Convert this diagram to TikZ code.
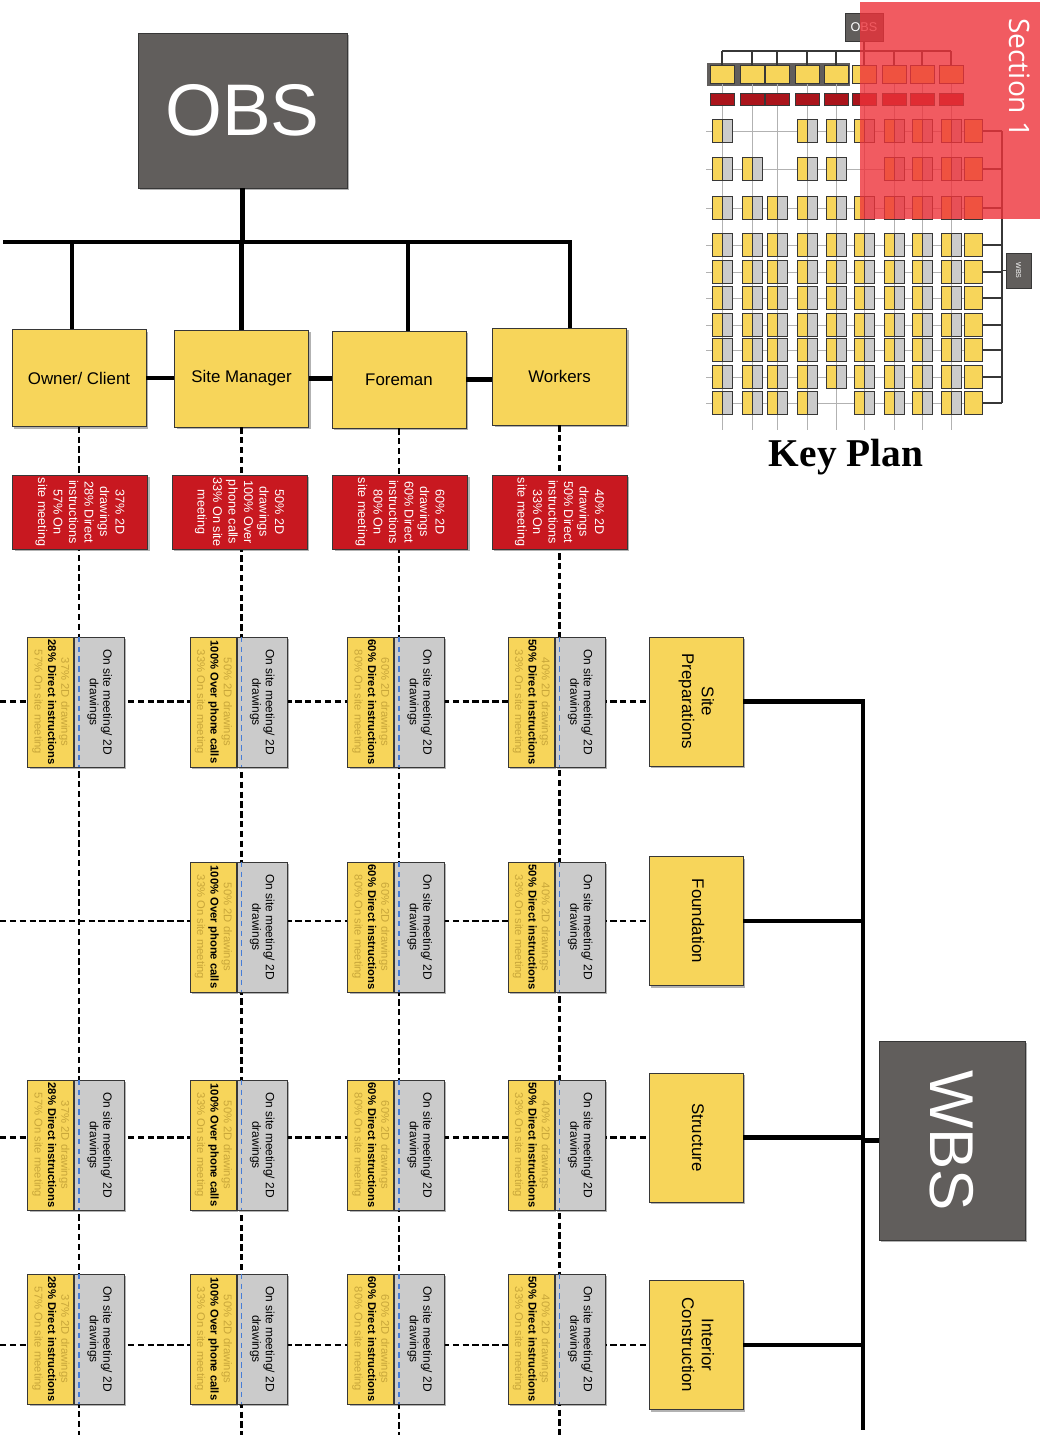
\documentclass[tikz,border=0pt]{standalone}
\usepackage{fontspec}
\setmainfont{Liberation Sans}
\newfontfamily\keyfont{Liberation Serif}
\newfontfamily\secfont{Open Sans}
\usepackage{graphicx}
\usetikzlibrary{positioning,shadows,calc}

\definecolor{obsgray}{RGB}{97,94,92}
\definecolor{boxyellow}{RGB}{247,213,90}
\definecolor{cellgray}{RGB}{203,203,203}
\definecolor{obsred}{RGB}{200,24,32}
\definecolor{edgegray}{RGB}{55,55,55}
\definecolor{fadetext}{RGB}{200,166,58}
\definecolor{cellblue}{RGB}{70,125,215}
\definecolor{overlayred}{RGB}{238,50,58}

\newcommand{\vtext}[1]{\rotatebox{-90}{\begin{tabular}{@{}c@{}}#1\end{tabular}}}

\begin{document}
\begin{tikzpicture}[x=0.025cm, y=-0.025cm,
    boxshadow/.style={drop shadow={shadow xshift=1.5pt, shadow yshift=-1.5pt, fill=black, opacity=0.3}},
    bigbox/.style={draw=edgegray, fill=obsgray, text=white, inner sep=0pt, boxshadow},
    rolebox/.style={draw=edgegray, fill=boxyellow, minimum width=3.35cm, minimum height=2.425cm, font=\fontsize{12}{14}\selectfont, boxshadow},
    redbox/.style={draw=edgegray, fill=obsred, text=white, minimum width=3.375cm, minimum height=1.85cm, inner sep=0pt, font=\fontsize{9}{11}\selectfont, boxshadow},
    ycell/.style={draw=edgegray, fill=boxyellow, minimum width=1.15cm, minimum height=3.25cm, inner sep=0pt, font=\fontsize{8}{9.5}\selectfont, boxshadow},
    gcell/.style={draw=edgegray, fill=cellgray, minimum width=1.25cm, minimum height=3.25cm, inner sep=0pt, font=\fontsize{8.5}{9.5}\selectfont, boxshadow},
    taskbox/.style={draw=edgegray, fill=boxyellow, minimum width=2.35cm, minimum height=3.225cm, inner sep=0pt, font=\fontsize{12}{14}\selectfont, boxshadow},
    bus/.style={line width=3.5pt},
    coldash/.style={line width=1.5pt, dash pattern=on 4.5pt off 2.5pt},
    bluedash/.style={cellblue, line width=1pt, dash pattern=on 4pt off 3pt},
    kline/.style={gray!60, line width=0.5pt},
    kdark/.style={edgegray, line width=0.8pt},
    kyellow/.style={draw=edgegray, fill=boxyellow, line width=0.3pt},
    kgray/.style={draw=edgegray, fill=cellgray, line width=0.3pt},
    kred/.style={draw=edgegray, fill=obsred!85!black, line width=0.3pt}]

    \useasboundingbox (0,0) rectangle (1040,1435);

    % OBS and roles
    \node[bigbox, minimum width=5.225cm, minimum height=3.875cm, font=\fontsize{52}{52}\selectfont] (obs) at (242.5,110.5) {OBS};

    \node[rolebox] (own) at (79,378) {Owner/ Client};
    \node[rolebox] (sm) at (241.5,378.5) {Site Manager};
    \node[rolebox] (frm) at (399,379.5) {Foreman};
    \node[rolebox] (wrk) at (559.5,376.5) {Workers};

    \coordinate (busL) at (3,242);
    \coordinate (busR) at (570,242);
    \coordinate (dOwn) at (72,242);
    \coordinate (dFrm) at (408,242);
    \coordinate (bottom) at (0,1435);
    \coordinate (left) at (0,0);

    \draw[bus] (obs.south) -- (obs.south |- busL);
    \draw[bus] (busL) -- (busR) -- (busR |- wrk.north);
    \draw[bus] (dOwn) -- (dOwn |- own.north);
    \draw[bus] (sm.north) -- (sm.north |- busL);
    \draw[bus] (dFrm) -- (dFrm |- frm.north);
    \draw[bus] (own.east) -- (own.east -| sm.west);
    \draw[bus] (sm.east) -- (sm.east -| frm.west);
    \draw[bus] (frm.east) -- (frm.east -| wrk.west);

    % Work packages
    \node[taskbox] (tSite) at (696,701.5) {\vtext{Site\\Preparations}};
    \node[taskbox] (tFound) at (696,921) {\vtext{Foundation}};
    \node[taskbox] (tStruct) at (696,1137.5) {\vtext{Structure}};
    \node[taskbox] (tInt) at (696,1345) {\vtext{Interior\\Construction}};

    \node[bigbox, minimum width=3.65cm, minimum height=4.975cm, font=\fontsize{44}{44}\selectfont] (wbs) at (952,1140.5) {\rotatebox{-90}{WBS}};

    \coordinate (spEnd) at (863,1430);
    \draw[bus] (tSite.east) -| (spEnd);
    \foreach \t in {tFound,tStruct,tInt}
        \draw[bus] (\t.east) -- (\t.east -| spEnd);
    \draw[bus] (wbs.west) -- (wbs.west -| spEnd);

    % Dashed grid
    \foreach \n in {own,sm,frm,wrk}
        \draw[coldash] (\n.south) -- (\n.south |- bottom);
    \foreach \t in {tSite,tFound,tStruct,tInt}
        \draw[coldash] (\t.west -| left) -- (\t.west);

    % Communication shares
    \node[redbox] (rOwn) at (80,512) {\vtext{37\% 2D\\drawings\\28\% Direct\\instructions\\57\% On\\site meeting}};
    \node[redbox] (rSm) at (239.5,512) {\vtext{50\% 2D\\drawings\\100\% Over\\phone calls\\33\% On site\\meeting}};
    \node[redbox] (rFrm) at (400,512) {\vtext{60\% 2D\\drawings\\60\% Direct\\instructions\\80\% On\\site meeting}};
    \node[redbox] (rWrk) at (559.5,512) {\vtext{40\% 2D\\drawings\\50\% Direct\\instructions\\33\% On\\site meeting}};

    % Matrix cells
    \foreach \col/\cx/\txA/\txB/\txC/\rows in {
        own/79/37/28\% Direct instructions/57/{1/702,3/1145,4/1339},
        sm/241.5/50/100\% Over phone calls/33/{1/702,2/927,3/1145,4/1339},
        frm/399/60/60\% Direct instructions/80/{1/702,2/927,3/1145,4/1339},
        wrk/559.5/40/50\% Direct instructions/33/{1/702,2/927,3/1145,4/1339}}
    {
        \foreach \rw/\ry in \rows {
            \node[ycell, anchor=east] (y\col\rw) at ({\cx-5},\ry)
                {\vtext{{\color{fadetext}\txA\% 2D drawings}\\\textbf{\txB}\\{\color{fadetext}\txC\% On site meeting}}};
            \node[gcell, anchor=west] (g\col\rw) at (y\col\rw.east) {\vtext{On site meeting/ 2D\\drawings}};
            \draw[bluedash] ([xshift=0.125cm]g\col\rw.north west) -- ([xshift=0.125cm]g\col\rw.south west);
        }
    }

    % Key plan thumbnail
    \fill[obsgray] (707,63) rectangle (850,86);
    \coordinate (kbusL) at (722,51);
    \coordinate (kbusR) at (951,51);
    \node[draw=edgegray, fill=obsgray, text=white, minimum width=0.95cm, minimum height=0.7cm, inner sep=0pt, font=\fontsize{9}{9}\selectfont] (kobs) at (864,27) {OBS};
    \draw[kdark] (kobs.south) -- (kobs.south |- kbusL);
    \draw[kdark] (kbusL) -- (kbusR);
    \foreach \ky in {131,169,208,245,272,298,325,350,377,403}
        \draw[kline] (706,\ky) -- (964,\ky);
    \foreach \kx in {722,752,777,807,836,864,894,922,951} {
        \draw[kdark] (\kx,51) -- (\kx,65);
        \draw[kline] (\kx,83) -- (\kx,430);
        \filldraw[kyellow] ({\kx-12},65) rectangle ({\kx+12},83);
        \filldraw[kred] ({\kx-12},93) rectangle ({\kx+12},105);
    }
    \foreach \kx/\krows in {
        722/{131,169,208,245,272,298,325,350,377,403},
        752/{169,208,245,272,298,325,350,377,403},
        777/{208,245,272,298,325,350,377,403},
        807/{131,169,208,245,272,298,325,350,377,403},
        836/{131,169,208,245,272,298,325,350,377},
        864/{131,208,245,272,298,325,350,377,403},
        894/{131,169,208,245,272,298,325,350,377,403},
        922/{131,169,208,245,272,298,325,350,377,403},
        951/{131,169,208,245,272,298,325,350,377,403}}
    {
        \foreach \ky in \krows {
            \filldraw[kyellow] ({\kx-10},{\ky-11.5}) rectangle (\kx,{\ky+11.5});
            \filldraw[kgray] (\kx,{\ky-11.5}) rectangle ({\kx+10},{\ky+11.5});
        }
    }
    \coordinate (kspT) at (1002,131);
    \coordinate (kspB) at (1002,403);
    \draw[kdark] (kspT) -- (kspB);
    \foreach \ky in {131,169,208,245,272,298,325,350,377,403} {
        \draw[kdark] (982,\ky) -- (1002,\ky);
        \filldraw[kyellow] (964,{\ky-11.5}) rectangle (982,{\ky+11.5});
    }
    \node[draw=edgegray, fill=obsgray, text=white, minimum width=0.625cm, minimum height=0.875cm, inner sep=0pt, font=\fontsize{5}{5}\selectfont] (kwbs) at (1018.5,270.5) {\rotatebox{-90}{WBS}};
    \draw[kdark] (kwbs.west) -- (kwbs.west -| kspT);

    % Section overlay
    \fill[overlayred, opacity=0.8] (860,2) rectangle (1040,219);
    \node[rotate=-90, text=white, font=\secfont\fontsize{20}{20}\selectfont] (sec) at (1020,78) {Section 1};

    \node[font=\keyfont\bfseries\fontsize{28}{28}\selectfont] (keyplan) at (846,457) {Key Plan};

\end{tikzpicture}
\end{document}
